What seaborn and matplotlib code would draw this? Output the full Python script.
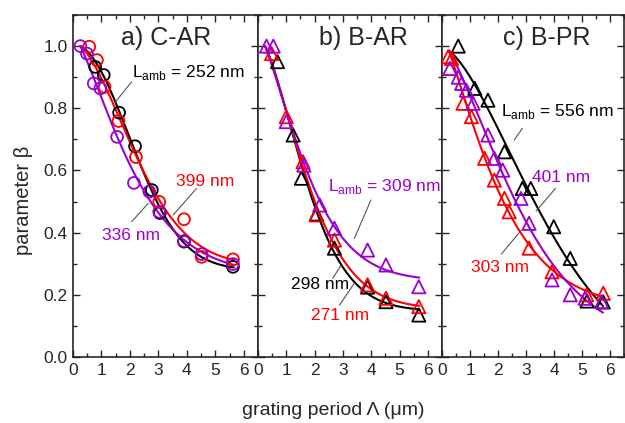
import numpy as np
import pandas as pd
import matplotlib
matplotlib.use("Agg")
import matplotlib.pyplot as plt
from matplotlib.ticker import MultipleLocator
import seaborn as sns

# ---- a) C-AR (circles) ----
a_black_x = [0.78, 1.08, 1.62, 2.18, 2.77, 3.05, 3.90, 5.62]
a_black_y = [0.933, 0.907, 0.786, 0.678, 0.537, 0.463, 0.371, 0.290]
a_red_x = [0.57, 0.84, 1.11, 1.60, 2.21, 3.03, 3.90, 4.52, 5.62]
a_red_y = [0.998, 0.955, 0.869, 0.759, 0.643, 0.499, 0.443, 0.322, 0.314]
a_purple_x = [0.26, 0.49, 0.73, 0.96, 1.55, 2.14, 2.68, 3.03, 3.90, 4.52, 5.62]
a_purple_y = [1.000, 0.976, 0.880, 0.864, 0.708, 0.560, 0.532, 0.467, 0.373, 0.331, 0.299]

# ---- b) B-AR (triangles) ----
b_black_x = [0.69, 1.24, 1.53, 2.06, 2.70, 3.87, 4.52, 5.68]
b_black_y = [0.950, 0.714, 0.575, 0.460, 0.350, 0.225, 0.178, 0.135]
b_red_x = [0.48, 1.00, 1.59, 2.06, 2.70, 3.87, 4.52, 5.68]
b_red_y = [0.976, 0.773, 0.628, 0.457, 0.376, 0.232, 0.189, 0.162]
b_purple_x = [0.30, 0.54, 1.00, 1.62, 2.18, 2.70, 3.87, 4.52, 5.68]
b_purple_y = [1.000, 1.000, 0.757, 0.617, 0.489, 0.414, 0.344, 0.296, 0.226]

# ---- c) B-PR (triangles) ----
c_black_x = [0.58, 1.17, 1.64, 2.23, 2.87, 3.17, 3.99, 4.58, 5.18, 5.76]
c_black_y = [1.000, 0.864, 0.826, 0.660, 0.542, 0.542, 0.419, 0.317, 0.180, 0.177]
c_red_x = [0.22, 0.34, 0.75, 1.05, 1.52, 1.87, 2.23, 2.40, 3.11, 3.93, 5.17, 5.76]
c_red_y = [0.966, 0.960, 0.816, 0.773, 0.639, 0.569, 0.510, 0.467, 0.350, 0.274, 0.200, 0.205]
c_purple_x = [0.28, 0.58, 0.70, 0.87, 1.11, 1.64, 1.87, 2.17, 2.82, 3.11, 3.93, 4.58, 5.11, 5.70]
c_purple_y = [0.928, 0.900, 0.880, 0.858, 0.816, 0.714, 0.639, 0.601, 0.510, 0.430, 0.248, 0.200, 0.189, 0.178]

# common starting point (x, beta) of the model curves in each panel, and their end x
a_curve_start, a_curve_end = (0.26, 1.00), 5.65
b_curve_start, b_curve_end = (0.25, 1.00), 5.70
c_curve_start, c_curve_end = (0.25, 0.985), 5.75

titles = ["a) C-AR", "b) B-AR", "c) B-PR"]
x_ticks = [0, 1, 2, 3, 4, 5, 6]
y_ticks = [0.0, 0.2, 0.4, 0.6, 0.8, 1.0]

BLACK = "#000000"
RED = "#ff0000"
PURPLE = "#9a00d0"
LEADER = "#555555"


def fit_decay(xs, ys, anchor):
    """Weighted least-squares fit of y = C + A*exp(-(x/L)**p) pinned near `anchor`."""
    xs = np.append(np.asarray(xs, float), anchor[0])
    ys = np.append(np.asarray(ys, float), anchor[1])
    w = np.ones_like(xs)
    w[-1] = 15.0
    best = None
    for p in np.linspace(0.7, 3.0, 47):
        for L in np.linspace(0.4, 10.0, 193):
            e = np.exp(-(xs / L) ** p)
            M = np.column_stack([np.ones_like(e), e])
            coef, *_ = np.linalg.lstsq(M * w[:, None], ys * w, rcond=None)
            sse = np.sum((w * (M @ coef - ys)) ** 2)
            if best is None or sse < best[0]:
                best = (sse, p, L, coef)
    _, p, L, (C, A) = best
    return lambda x: C + A * np.exp(-(x / L) ** p)


panels = [
    dict(series=[(a_black_x, a_black_y, BLACK), (a_red_x, a_red_y, RED),
                 (a_purple_x, a_purple_y, PURPLE)],
         marker="o", ms=8.5, start=a_curve_start, end=a_curve_end,
         labels=[(2.07, 0.915, r"L$_{\rm amb}$ = 252 nm", BLACK, "left"),
                 (4.63, 0.563, "399 nm", RED, "center"),
                 (2.04, 0.392, "336 nm", PURPLE, "center")],
         leaders=[((2.06, 0.885), (1.47, 0.818)),
                  ((4.34, 0.542), (3.52, 0.457)),
                  ((2.06, 0.435), (2.64, 0.494))],
         title_x=3.26),
    dict(series=[(b_black_x, b_black_y, BLACK), (b_red_x, b_red_y, RED),
                 (b_purple_x, b_purple_y, PURPLE)],
         marker="^", ms=9.5, start=b_curve_start, end=b_curve_end,
         labels=[(2.46, 0.550, r"L$_{\rm amb}$ = 309 nm", PURPLE, "left"),
                 (2.21, 0.232, "298 nm", BLACK, "center"),
                 (2.91, 0.135, "271 nm", RED, "center")],
         leaders=[((3.99, 0.505), (3.40, 0.381)),
                  ((2.64, 0.253), (2.94, 0.296)),
                  ((2.88, 0.167), (3.40, 0.237))],
         title_x=3.72),
    dict(series=[(c_black_x, c_black_y, BLACK), (c_red_x, c_red_y, RED),
                 (c_purple_x, c_purple_y, PURPLE)],
         marker="^", ms=9.5, start=c_curve_start, end=c_curve_end,
         labels=[(2.12, 0.790, r"L$_{\rm amb}$ = 556 nm", BLACK, "left"),
                 (4.24, 0.576, "401 nm", PURPLE, "center"),
                 (2.08, 0.289, "303 nm", RED, "center")],
         leaders=[((2.58, 0.698), (2.87, 0.735)),
                  ((4.05, 0.542), (3.36, 0.469)),
                  ((2.12, 0.331), (2.83, 0.408))],
         title_x=3.75),
]

sns.set_style("ticks")
plt.rcParams["font.family"] = ["Liberation Sans", "DejaVu Sans"]
plt.rcParams["mathtext.fontset"] = "custom"
plt.rcParams["mathtext.rm"] = "Liberation Sans"

W, H = 625, 423
fig = plt.figure(figsize=(W / 100, H / 100), dpi=100)

boxes = [(73, 185), (258, 184), (442, 182)]
bottom_px, top_px = 357, 15

for i, (p, (left_px, width_px)) in enumerate(zip(panels, boxes)):
    ax = fig.add_axes([left_px / W, (H - bottom_px) / H,
                       width_px / W, (bottom_px - top_px) / H])
    # model curves fitted to each data set
    for xs, ys, col in p["series"]:
        f = fit_decay(xs, ys, p["start"])
        xf = np.linspace(p["start"][0], p["end"], 200)
        df_fit = pd.DataFrame({"x": xf, "y": f(xf)})
        sns.lineplot(data=df_fit, x="x", y="y", color=col, lw=1.5,
                     sort=False, estimator=None, ax=ax)
    # measured points
    for xs, ys, col in p["series"]:
        df_pts = pd.DataFrame({"x": xs, "y": ys})
        sns.scatterplot(data=df_pts, x="x", y="y", marker=p["marker"],
                        s=p["ms"] ** 2, color=col, facecolor="none",
                        edgecolor=col, linewidth=1.3, ax=ax, zorder=3)
    for (x0, y0), (x1, y1) in p["leaders"]:
        ax.plot([x0, x1], [y0, y1], color=LEADER, lw=0.8)
    for x, y, txt, col, ha in p["labels"]:
        ax.text(x, y, txt, color=col, ha=ha, va="center", fontsize=12.5)
    ax.text(p["title_x"], 1.025, titles[i], ha="center", va="center",
            fontsize=18)

    ax.set_xlim(0, 6.5)
    ax.set_ylim(0, 1.1)
    ax.set_xticks(x_ticks)
    ax.set_yticks(y_ticks)
    ax.xaxis.set_minor_locator(MultipleLocator(0.5))
    ax.yaxis.set_minor_locator(MultipleLocator(0.1))
    ax.tick_params(which="both", direction="in", top=True, right=True,
                   width=1.0, labelsize=12.5, pad=4)
    ax.tick_params(which="major", length=5)
    ax.tick_params(which="minor", length=3)
    ax.set_xticklabels([str(t) for t in x_ticks])
    if i == 0:
        ax.set_yticklabels([f"{t:.1f}" for t in y_ticks])
    else:
        ax.set_yticklabels([])
    for s in ax.spines.values():
        s.set_linewidth(1.2)
        s.set_visible(True)
    ax.set_xlabel("")
    ax.set_ylabel("")

fig.text(333 / W, 1 - 410 / H, "grating period \u039b (\u03bcm)", ha="center",
         va="center", fontsize=14)
fig.text(24 / W, 1 - 200 / H, "parameter \u03b2", ha="center", va="center",
         rotation=90, fontsize=14.5)

fig.savefig("out.png", dpi=100)
